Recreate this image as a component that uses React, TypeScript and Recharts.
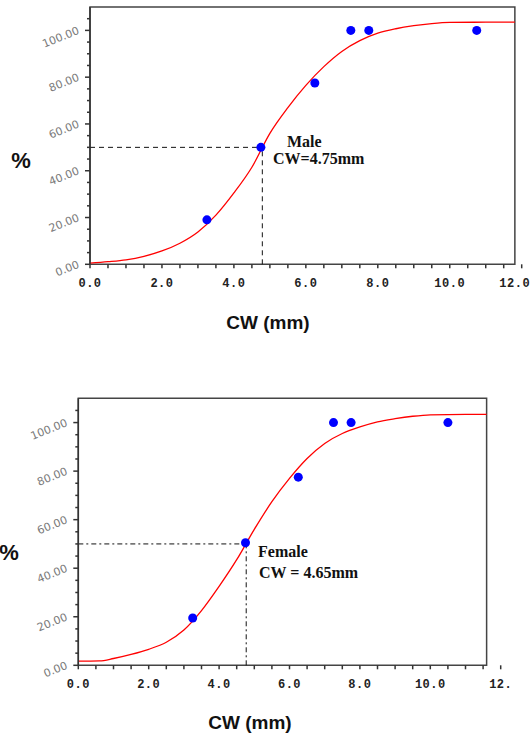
import React from "react";
import {
  ComposedChart,
  Line,
  Scatter,
  XAxis,
  YAxis,
  ReferenceArea,
  ReferenceLine,
} from "recharts";

// observed points
const maleX = [3.25, 4.75, 6.25, 7.25, 7.75, 10.75];
const maleY = [19, 50, 77.5, 100, 100, 100];
const femaleX = [3.25, 4.75, 6.25, 7.25, 7.75, 10.5];
const femaleY = [19.5, 50.5, 77.5, 100, 100, 100];

// fitted curves
const maleCurveX = [0, 0.5, 1, 1.5, 2, 2.5, 3, 3.5, 4, 4.5, 5, 5.5, 6, 6.5, 7, 7.5, 8, 8.5, 9, 9.5, 10, 11, 11.81];
const maleCurveY = [0.5, 1.1, 1.9, 3.4, 5.7, 9, 13.8, 21, 30.5, 41.5, 56, 67, 76.5, 84.5, 91, 95.6, 98.8, 100.7, 102, 102.9, 103.4, 103.5, 103.5];
const femaleCurveX = [0, 0.6, 1, 1.5, 2, 2.5, 3, 3.5, 4, 4.5, 5, 5.5, 6, 6.5, 7, 7.5, 8, 8.5, 9, 9.5, 10, 11, 11.6];
const femaleCurveY = [1.7, 1.8, 2.8, 4.5, 6.6, 9.5, 14.5, 22.5, 32.5, 43.5, 56, 67.4, 77, 85.2, 91.4, 95.5, 98.2, 100.3, 101.6, 102.6, 103.2, 103.4, 103.4];

const xTicks = [0, 0.5, 1, 1.5, 2, 2.5, 3, 3.5, 4, 4.5, 5, 5.5, 6, 6.5, 7, 7.5, 8, 8.5, 9, 9.5, 10, 10.5, 11, 11.5, 12];
const yTicks = [0, 5, 10, 15, 20, 25, 30, 35, 40, 45, 50, 55, 60, 65, 70, 75, 80, 85, 90, 95, 100, 105];

const toPts = (xs: number[], ys: number[]) => xs.map((x, i) => ({ x, y: ys[i] }));

const renderYTick = (props: any) => {
  const { x, y, payload } = props;
  const v = payload.value;
  const major = v % 20 === 0;
  const tx = x - 10;
  const ty = y + 3;
  return (
    <g key={"yt" + v}>
      <line x1={x - (major ? 5 : 3)} x2={x} y1={y} y2={y} stroke="#333" strokeWidth={1.5} />
      {major && (
        <g transform={`translate(${tx} ${ty}) rotate(-22)`}>
          <text
            x={0}
            y={0}
            textAnchor="end"
            fontFamily="DejaVu Sans"
            fontSize={11}
            fill="#7a7a7a"
          >
            {v.toFixed(2)}
          </text>
        </g>
      )}
    </g>
  );
};

const makeXTick = (lastLabel: string) => (props: any) => {
  const { x, y, payload } = props;
  const v = payload.value;
  const major = v % 2 === 0;
  return (
    <g key={"xt" + v}>
      <line x1={x} x2={x} y1={y} y2={y + 4} stroke="#333" strokeWidth={1.5} />
      {major && (
        <text
          x={v === 12 && lastLabel.length > 3 ? x - 7 : x}
          y={y + 23}
          textAnchor="middle"
          fontFamily="Liberation Mono"
          fontWeight="bold"
          fontSize={12}
          letterSpacing={0.5}
          fill="#222"
        >
          {v === 12 ? lastLabel : v.toFixed(1)}
        </text>
      )}
    </g>
  );
};

type PanelProps = {
  top: number;
  height: number;
  margin: { top: number; right: number; bottom: number; left: number };
  pts: { x: number; y: number }[];
  curve: { x: number; y: number }[];
  frameRight: number;
  cut: number;
  lastLabel: string;
  dash: string;
  children?: React.ReactNode;
};

function Panel({ top, height, margin, pts, curve, frameRight, cut, lastLabel, dash, children }: PanelProps) {
  return (
    <div style={{ position: "absolute", left: 0, top, width: 530, height }}>
      <ComposedChart width={530} height={height} margin={margin}>
        <XAxis
          type="number"
          dataKey="x"
          domain={[0, 12]}
          ticks={xTicks}
          interval={0}
          height={30}
          axisLine={false}
          tickLine={false}
          tickSize={0}
          tickMargin={0}
          tick={makeXTick(lastLabel)}
        />
        <YAxis
          type="number"
          dataKey="y"
          domain={[0, 110]}
          ticks={yTicks}
          interval={0}
          width={40}
          axisLine={{ stroke: "#333", strokeWidth: 1.5 }}
          tickLine={false}
          tickSize={0}
          tickMargin={0}
          tick={renderYTick}
        />
        <ReferenceArea
          x1={0}
          x2={frameRight}
          y1={0}
          y2={110}
          fill="none"
          fillOpacity={0}
          stroke="#444"
          strokeWidth={1.5}
        />
        <ReferenceLine
          segment={[{ x: 0, y: 50 }, { x: cut, y: 50 }]}
          stroke="#111"
          strokeDasharray={dash}
        />
        <ReferenceLine
          segment={[{ x: cut, y: 0 }, { x: cut, y: 50 }]}
          stroke="#111"
          strokeDasharray={dash}
        />
        <Line
          data={curve}
          dataKey="y"
          type="monotone"
          stroke="#ff0000"
          strokeWidth={1.3}
          dot={false}
          isAnimationActive={false}
        />
        <Scatter
          data={pts}
          dataKey="y"
          fill="#0000ff"
          isAnimationActive={false}
          shape={(p: any) => <circle cx={p.cx} cy={p.cy} r={4.5} fill="#0000ff" />}
        />
        {children}
      </ComposedChart>
    </div>
  );
}

const serif = "Liberation Serif, Times New Roman, serif";
const sans = "Liberation Sans, Arial, sans-serif";

export default function App() {
  return (
    <div style={{ position: "absolute", left: 0, top: 0, width: 530, height: 736, background: "#fff", overflow: "hidden" }}>
      <Panel
        top={0}
        height={340}
        margin={{ top: 7, right: 8.3, bottom: 45.7, left: 50 }}
        pts={toPts(maleX, maleY)}
        curve={toPts(maleCurveX, maleCurveY)}
        frameRight={11.81}
        cut={4.79}
        lastLabel="12.0"
        dash="5 4"
      >
        <text x={21} y={168} textAnchor="middle" fontFamily={sans} fontWeight="bold" fontSize={22} fill="#111">%</text>
        <text x={287} y={147} fontFamily={serif} fontWeight="bold" fontSize={16} fill="#111">Male</text>
        <text x={273} y={164} fontFamily={serif} fontWeight="bold" fontSize={16} fill="#111">CW=4.75mm</text>
        <text x={268} y={329} textAnchor="middle" fontFamily={sans} fontWeight="bold" fontSize={19} fill="#111">CW (mm)</text>
      </Panel>
      <Panel
        top={370}
        height={366}
        margin={{ top: 28.3, right: 29.3, bottom: 40.7, left: 38.3 }}
        pts={toPts(femaleX, femaleY)}
        curve={toPts(femaleCurveX, femaleCurveY)}
        frameRight={11.6}
        cut={4.77}
        lastLabel="12."
        dash="5 3 2 3"
      >
        <text x={9} y={190} textAnchor="middle" fontFamily={sans} fontWeight="bold" fontSize={22} fill="#111">%</text>
        <text x={258} y={187} fontFamily={serif} fontWeight="bold" fontSize={16} fill="#111">Female</text>
        <text x={259} y={208} fontFamily={serif} fontWeight="bold" fontSize={16} fill="#111">CW = 4.65mm</text>
        <text x={250} y={359} textAnchor="middle" fontFamily={sans} fontWeight="bold" fontSize={19} fill="#111">CW (mm)</text>
      </Panel>
    </div>
  );
}
